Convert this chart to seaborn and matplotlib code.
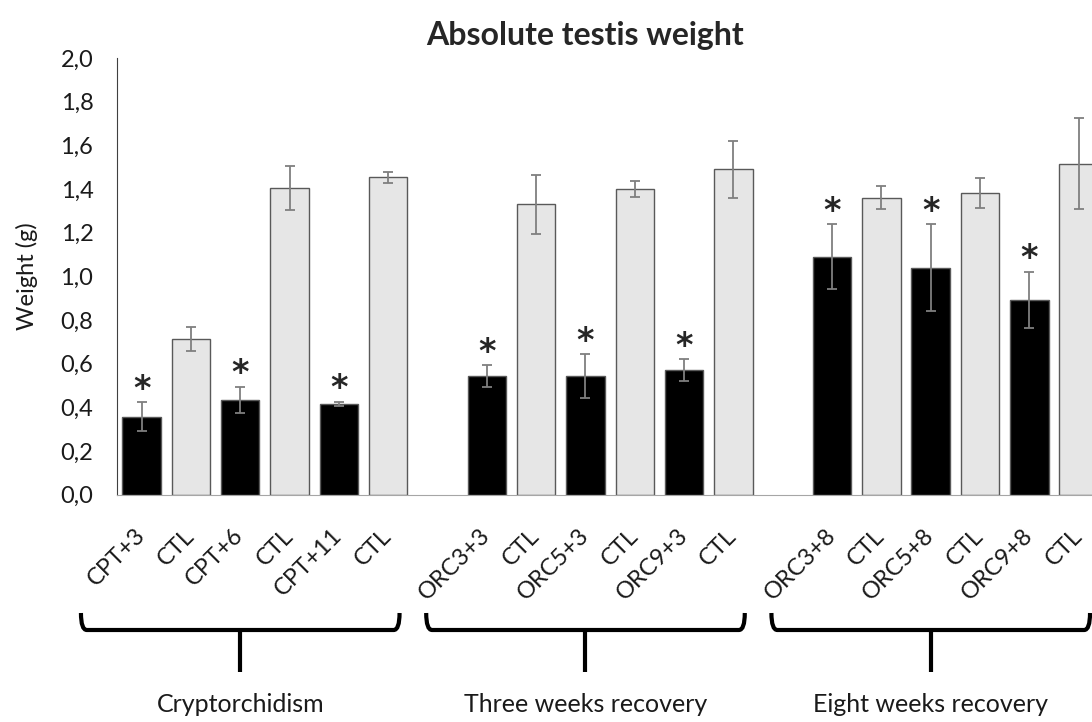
import seaborn as sns
import matplotlib.pyplot as plt
import matplotlib.transforms as mtransforms
from matplotlib.path import Path
from matplotlib.patches import PathPatch
from matplotlib.ticker import FuncFormatter
import pandas as pd

# данные
groups = ['Cryptorchidism', 'Three weeks recovery', 'Eight weeks recovery']
labels = ['CPT+3', 'CTL', 'CPT+6', 'CTL', 'CPT+11', 'CTL',
          'ORC3+3', 'CTL', 'ORC5+3', 'CTL', 'ORC9+3', 'CTL',
          'ORC3+8', 'CTL', 'ORC5+8', 'CTL', 'ORC9+8', 'CTL']
kinds = ['treated', 'control'] * 9
means = [0.357, 0.712, 0.435, 1.406, 0.417, 1.454,
         0.544, 1.330, 0.544, 1.399, 0.570, 1.491,
         1.090, 1.361, 1.040, 1.381, 0.892, 1.516]
errors = [0.067, 0.054, 0.059, 0.101, 0.009, 0.025,
          0.050, 0.135, 0.100, 0.037, 0.050, 0.130,
          0.148, 0.051, 0.198, 0.070, 0.130, 0.209]

per_group = 6
# позиции столбцов: между группами одна пустая ячейка
positions = [g * (per_group + 1) + i for g in range(len(groups)) for i in range(per_group)]

df = pd.DataFrame({'pos': positions, 'weight': means, 'kind': kinds, 'label': labels})

sns.set_style('white')
plt.rcParams['font.family'] = ['Lato', 'DejaVu Sans']

fig = plt.figure(figsize=(10.92, 7.22), dpi=100)
ax = fig.add_axes([0.1071, 0.3148, 0.8929, 0.6049])

sns.barplot(data=df, x='pos', y='weight', hue='kind', native_scale=True, dodge=False,
            palette={'treated': 'black', 'control': '#e6e6e6'}, width=0.78,
            edgecolor='#595959', linewidth=1, errorbar=None, legend=False, ax=ax)

ax.errorbar(positions, means, yerr=errors, fmt='none', ecolor='#7f7f7f',
            elinewidth=1.3, capsize=3.4, capthick=1.3)

# звёздочки над обработанными группами
for x, m, e, k in zip(positions, means, errors, kinds):
    if k == 'treated':
        ax.annotate('*', (x, m + e), xytext=(0, 2.5), textcoords='offset points',
                    ha='center', va='baseline', fontsize=24, fontweight='bold',
                    family='DejaVu Sans')

ax.set_xlim(-0.5, 19.27)
ax.set_ylim(0, 2.0)
ax.set_yticks([i / 5 for i in range(11)])
ax.yaxis.set_major_formatter(FuncFormatter(lambda v, p: f'{v:.1f}'.replace('.', ',')))
ax.set_xticks(positions)
ax.set_xticklabels(labels, rotation=45, ha='right', va='center', rotation_mode='anchor')
ax.tick_params(axis='y', length=0, pad=17, labelsize=17, labelcolor='#1a1a1a')
ax.tick_params(axis='x', length=0, pad=27, labelsize=17, labelcolor='#1a1a1a')
ax.set_xlabel('')
ax.set_ylabel('Weight (g)', fontsize=17, labelpad=16, color='#1a1a1a')

sns.despine(ax=ax)
ax.spines['left'].set_color('#404040')
ax.spines['bottom'].set_color('#a6a6a6')

fig.text(585 / 1092, 1 - 35 / 722, 'Absolute testis weight', ha='center', va='center',
         fontsize=23, fontweight='bold')

# фигурные скобки под группами
trans = mtransforms.blended_transform_factory(ax.transData, fig.transFigure)
y_tip, y_bar, y_stem = 1 - 613 / 722, 1 - 630 / 722, 1 - 672 / 722
for g, name in enumerate(groups):
    start = g * (per_group + 1)
    xl, xr, xc = start - 1.23, start + per_group - 1 + 0.23, start + 2
    verts = [(xl, y_tip), (xl, y_bar), (xl + 0.12, y_bar), (xr - 0.12, y_bar),
             (xr, y_bar), (xr, y_tip)]
    codes = [Path.MOVETO, Path.CURVE3, Path.CURVE3, Path.LINETO, Path.CURVE3, Path.CURVE3]
    ax.add_artist(PathPatch(Path(verts, codes), transform=trans, fill=False,
                            lw=3, color='black', clip_on=False, capstyle='butt'))
    ax.plot([xc, xc], [y_bar, y_stem], transform=trans, color='black', lw=3,
            clip_on=False, solid_capstyle='butt')
    ax.text(xc, 1 - 705 / 722, name, transform=trans, ha='center', va='center',
            fontsize=18, color='#1a1a1a')

fig.savefig('out.png', dpi=100)
